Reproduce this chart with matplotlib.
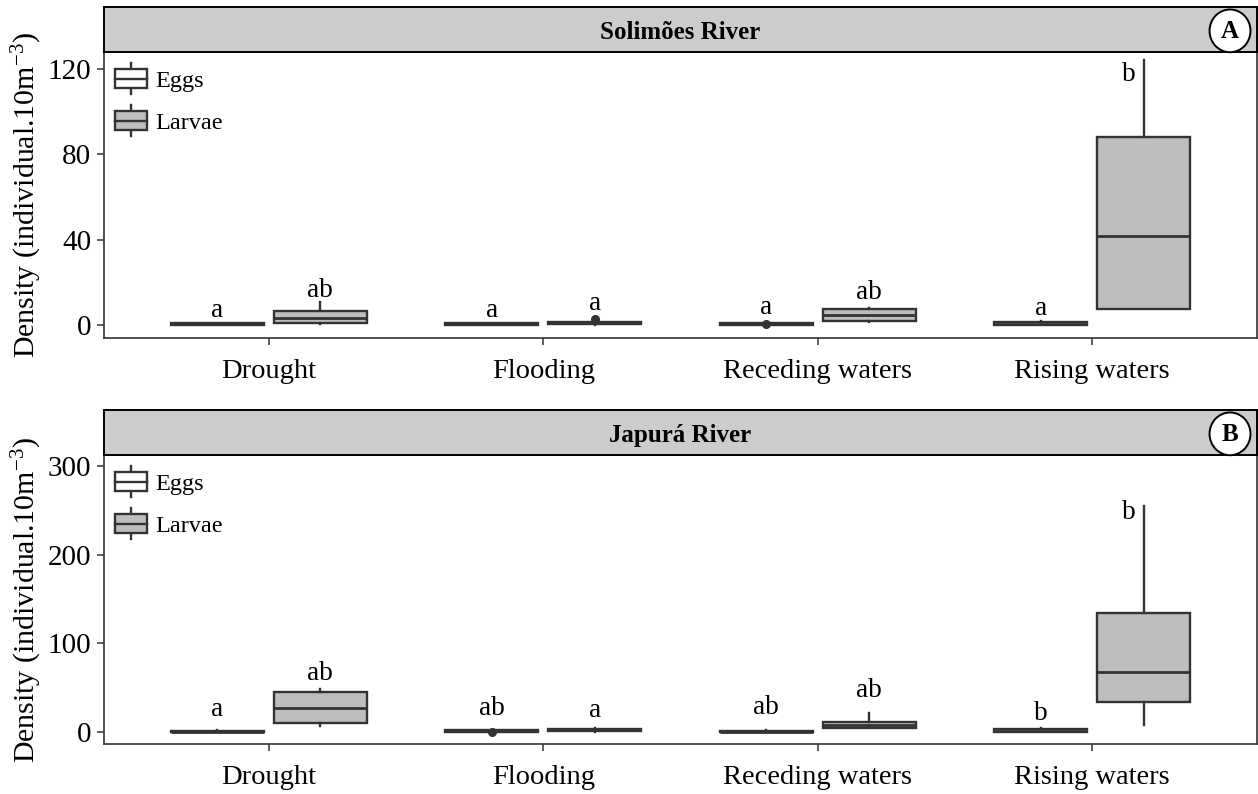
import numpy as np
import matplotlib.pyplot as plt
from matplotlib.patches import Rectangle, Ellipse, Patch
from matplotlib.lines import Line2D
from matplotlib.legend_handler import HandlerBase

plt.rcParams['font.family'] = 'Liberation Serif'
plt.rcParams['mathtext.fontset'] = 'custom'
plt.rcParams['mathtext.rm'] = 'Liberation Serif'
plt.rcParams['mathtext.it'] = 'Liberation Serif:italic'
plt.rcParams['mathtext.bf'] = 'Liberation Serif:bold'

seasons = ["Drought", "Flooding", "Receding waters", "Rising waters"]

# Solimões River - eggs (whisker low, Q1, median, Q3, whisker high)
sol_eggs_low = [0.0, 0.0, 0.0, 0.0]
sol_eggs_q1 = [0.0, 0.0, 0.0, 0.2]
sol_eggs_med = [0.3, 0.3, 0.3, 0.6]
sol_eggs_q3 = [0.7, 0.7, 0.7, 1.2]
sol_eggs_high = [0.9, 0.9, 0.8, 1.9]
sol_eggs_out = [[], [], [0.3], []]

# Solimões River - larvae
sol_larv_low = [0.3, 0.1, 1.5, 7.4]
sol_larv_q1 = [1.1, 0.3, 2.0, 7.4]
sol_larv_med = [3.1, 0.8, 4.7, 41.9]
sol_larv_q3 = [6.7, 1.4, 7.4, 88.1]
sol_larv_high = [10.9, 1.8, 8.1, 124.4]
sol_larv_out = [[], [2.6], [], []]

sol_eggs_letters = ["a", "a", "a", "a"]
sol_eggs_letter_y = [7.0, 7.0, 8.1, 7.5]
sol_larv_letters = ["ab", "a", "ab", "b"]
sol_larv_letter_y = [16.4, 10.2, 15.2, 117.4]

# Japurá River - eggs
jap_eggs_low = [0.0, 0.0, 0.0, 0.3]
jap_eggs_q1 = [0.0, 0.5, 0.0, 0.5]
jap_eggs_med = [0.5, 1.2, 0.5, 1.5]
jap_eggs_q3 = [1.5, 2.0, 1.5, 3.0]
jap_eggs_high = [2.0, 2.5, 2.0, 4.8]
jap_eggs_out = [[], [0.3], [], []]

# Japurá River - larvae
jap_larv_low = [6.8, 0.5, 4.0, 8.0]
jap_larv_q1 = [9.7, 0.8, 4.8, 33.5]
jap_larv_med = [26.7, 2.0, 8.0, 68.0]
jap_larv_q3 = [44.7, 3.5, 11.6, 134.0]
jap_larv_high = [48.0, 4.0, 21.8, 255.0]
jap_larv_out = [[], [], [], []]

jap_eggs_letters = ["a", "ab", "ab", "b"]
jap_eggs_letter_y = [25.0, 26.6, 28.0, 21.0]
jap_larv_letters = ["ab", "a", "ab", "b"]
jap_larv_letter_y = [66.0, 24.8, 46.6, 247.0]

DARK = '#333333'
LARVAE_FILL = '#BEBEBE'
STRIP_FILL = '#CCCCCC'
LW = 1.7
DODGE = 0.1875
BOX_W = 0.3375


def make_stats(low, q1, med, q3, high, out):
    return [dict(whislo=a, q1=b, med=c, q3=d, whishi=e, fliers=f)
            for a, b, c, d, e, f in zip(low, q1, med, q3, high, out)]


class BoxKey(HandlerBase):
    """Legend key drawn as a tiny boxplot."""
    def create_artists(self, legend, orig_handle, xdescent, ydescent,
                       width, height, fontsize, trans):
        x0, y0 = -xdescent, -ydescent
        cx = x0 + width / 2
        whisk = Line2D([cx, cx], [y0, y0 + height], color=DARK, lw=LW,
                       transform=trans)
        box = Rectangle((x0, y0 + 0.2 * height), width, 0.6 * height,
                        facecolor=orig_handle.get_facecolor(),
                        edgecolor=DARK, lw=LW, transform=trans)
        med = Line2D([x0, x0 + width], [y0 + 0.5 * height] * 2, color=DARK,
                     lw=LW, transform=trans)
        return [whisk, box, med]


def draw_group(ax, x, stats, fill):
    ax.bxp(stats, positions=x, widths=BOX_W, patch_artist=True,
           showcaps=False,
           boxprops=dict(facecolor=fill, edgecolor=DARK, linewidth=LW),
           medianprops=dict(color=DARK, linewidth=LW + 0.3),
           whiskerprops=dict(color=DARK, linewidth=LW),
           flierprops=dict(marker='o', markerfacecolor=DARK,
                           markeredgecolor=DARK, markersize=5.5))


def draw_letters(ax, x, letters, ys, highs):
    for xi, t, y, hi in zip(x, letters, ys, highs):
        # keep the letter clear of a whisker that runs past it
        if y < hi:
            xi = xi - 0.055
        ax.text(xi, y, t, ha='center', va='center', fontsize=19.5)


def draw_panel(ax, strip, title, tag, eggs, larvae, eggs_let, larv_let,
               yticks, ylim):
    x = np.arange(1, len(seasons) + 1)
    draw_group(ax, x - DODGE, make_stats(*eggs), 'white')
    draw_group(ax, x + DODGE, make_stats(*larvae), LARVAE_FILL)
    draw_letters(ax, x - DODGE, eggs_let[0], eggs_let[1], eggs[4])
    draw_letters(ax, x + DODGE, larv_let[0], larv_let[1], larvae[4])

    ax.set_xlim(0.4, 4.6)
    ax.set_ylim(*ylim)
    ax.set_xticks(x)
    ax.set_xticklabels(seasons, fontsize=20.5)
    ax.set_yticks(yticks)
    ax.set_yticklabels([str(v) for v in yticks], fontsize=21)
    ax.tick_params(axis='both', length=5, width=1.1, color=DARK)
    ax.tick_params(axis='x', pad=10)
    ax.tick_params(axis='y', pad=4)
    for s in ax.spines.values():
        s.set_color(DARK)
        s.set_linewidth(1.2)
    ax.set_ylabel('Density (individual.10m$^{-3}$)', fontsize=21.5)
    ax.yaxis.set_label_coords(-0.052, 0.5)

    ax.legend(handles=[Patch(facecolor='white'), Patch(facecolor=LARVAE_FILL)],
              labels=['Eggs', 'Larvae'], handler_map={Patch: BoxKey()},
              loc='upper left', frameon=False, fontsize=17.5,
              handlelength=1.3, handleheight=1.6, labelspacing=0.45,
              handletextpad=0.35, borderpad=0.45, borderaxespad=0)

    strip.set_facecolor(STRIP_FILL)
    strip.set_xticks([])
    strip.set_yticks([])
    for s in strip.spines.values():
        s.set_color('black')
        s.set_linewidth(1.4)
    strip.text(0.5, 0.44, title, transform=strip.transAxes, ha='center',
               va='center', fontsize=18, fontweight='bold')
    circ = Ellipse((0.9766, 0.47), 0.0355, 0.95, transform=strip.transAxes,
                   facecolor='white', edgecolor='black', lw=1.4,
                   clip_on=False, zorder=5)
    strip.add_patch(circ)
    strip.text(0.9766, 0.45, tag, transform=strip.transAxes, ha='center',
               va='center', fontsize=18, fontweight='bold', zorder=6)


fig = plt.figure(figsize=(12.58, 7.94), dpi=100)

left, width = 104 / 1258, 1153 / 1258
ax_top = fig.add_axes([left, 1 - 338 / 794, width, 286 / 794])
strip_top = fig.add_axes([left, 1 - 52 / 794, width, 45 / 794])
ax_bot = fig.add_axes([left, 1 - 744 / 794, width, 289 / 794])
strip_bot = fig.add_axes([left, 1 - 455 / 794, width, 45 / 794])

draw_panel(ax_top, strip_top, 'Solimões River', 'A',
           (sol_eggs_low, sol_eggs_q1, sol_eggs_med, sol_eggs_q3,
            sol_eggs_high, sol_eggs_out),
           (sol_larv_low, sol_larv_q1, sol_larv_med, sol_larv_q3,
            sol_larv_high, sol_larv_out),
           (sol_eggs_letters, sol_eggs_letter_y),
           (sol_larv_letters, sol_larv_letter_y),
           [0, 40, 80, 120], (-6.1, 128.0))

draw_panel(ax_bot, strip_bot, 'Japurá River', 'B',
           (jap_eggs_low, jap_eggs_q1, jap_eggs_med, jap_eggs_q3,
            jap_eggs_high, jap_eggs_out),
           (jap_larv_low, jap_larv_q1, jap_larv_med, jap_larv_q3,
            jap_larv_high, jap_larv_out),
           (jap_eggs_letters, jap_eggs_letter_y),
           (jap_larv_letters, jap_larv_letter_y),
           [0, 100, 200, 300], (-13.5, 312.4))

fig.savefig('out.png', dpi=100)
